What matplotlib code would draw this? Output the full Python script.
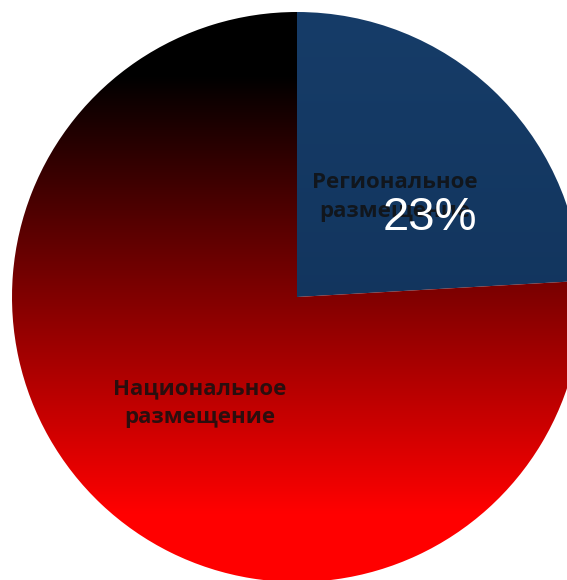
import numpy as np
import matplotlib.pyplot as plt
from matplotlib.colors import LinearSegmentedColormap

segments = ['Региональное\nразмещение', 'Национальное\nразмещение']
shares = [24.1, 75.9]
pct_labels = ['23%', '']

W, H = 567, 580
cx, cy, r = 297, 297, 285

fig = plt.figure(figsize=(W / 100, H / 100), dpi=100)
ax = fig.add_axes([0, 0, 1, 1])
ax.axis('off')

wedges, _ = ax.pie(shares, startangle=90, counterclock=False, radius=1,
                   colors=['none', 'none'], wedgeprops=dict(linewidth=0))

grad = np.linspace(0, 1, 256).reshape(-1, 1)
ext = [-1, 1, -1, 1]

blue = LinearSegmentedColormap.from_list('b', ['#0f2f55', '#163c68'])
im1 = ax.imshow(grad, cmap=blue, extent=ext, origin='lower', aspect='auto')
im1.set_clip_path(wedges[0])

red = LinearSegmentedColormap.from_list('r', [(0, '#ff0000'), (0.12, '#ff0000'),
                                              (0.89, '#000000'), (1, '#000000')])
im2 = ax.imshow(grad, cmap=red, extent=ext, origin='lower', aspect='auto')
im2.set_clip_path(wedges[1])

ax.set_xlim(-cx / r, (W - cx) / r)
ax.set_ylim(-(H - cy) / r, cy / r)


def px(x, y):
    return (x - cx) / r, (cy - y) / r


ax.text(*px(395, 197), segments[0], ha='center', va='center', fontsize=16,
        fontweight='bold', color='#111111', alpha=0.85, linespacing=1.5,
        family='Open Sans')
ax.text(*px(200, 403), segments[1], ha='center', va='center', fontsize=16,
        fontweight='bold', color='#111111', alpha=0.85, linespacing=1.45,
        family='Open Sans')
ax.text(*px(430, 218), pct_labels[0], ha='center', va='center', fontsize=34,
        color='white', family='Liberation Sans')

fig.savefig('out.png', dpi=100)
